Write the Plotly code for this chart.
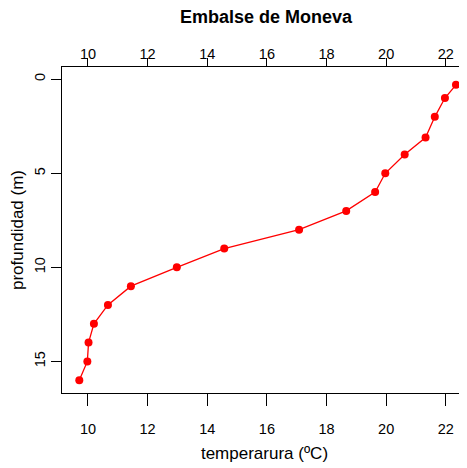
import plotly.graph_objects as go

temperatura = [22.34, 21.97, 21.63, 21.32, 20.62, 19.97, 19.63, 18.66, 17.08,
               14.57, 12.98, 11.44, 10.67, 10.20, 10.02, 9.98, 9.71]
profundidad = [0.3, 1, 2, 3.1, 4, 5, 6, 7, 8, 9, 10, 11, 12, 13, 14, 15, 16]
x_ticks = [10, 12, 14, 16, 18, 20, 22]
y_ticks = [0, 5, 10, 15]

FONT = "Liberation Sans, Arial, sans-serif"
xr = [9.13, 22.71]
yr = [16.68, -0.65]

# page body has an 8px offset, so the figure is sized to fill the window
W, H = 459, 460

fig = go.Figure()
fig.add_trace(go.Scatter(
    x=temperatura, y=profundidad, mode="lines+markers",
    line=dict(color="#ff0000", width=1.3),
    marker=dict(color="#ff0000", size=8, symbol="circle"),
    showlegend=False, cliponaxis=False,
))
fig.add_trace(go.Scatter(x=[], y=[], xaxis="x2", yaxis="y", showlegend=False))

axis_common = dict(
    showgrid=False, zeroline=False, showline=True, linecolor="black",
    linewidth=1.3, ticks="outside", tickcolor="black", tickwidth=1.3,
    tickfont=dict(family=FONT, size=14.5, color="black"),
)

fig.update_layout(
    width=W, height=H,
    margin=dict(l=54, r=0, t=59, b=75),
    paper_bgcolor="white", plot_bgcolor="white",
    font=dict(family=FONT, color="black"),
    xaxis=dict(range=xr, tickvals=x_ticks, ticklen=12, side="bottom",
               ticklabelstandoff=10,
               title=dict(text="temperarura (ºC)", font=dict(size=17), standoff=11),
               automargin=False, **axis_common),
    xaxis2=dict(range=xr, tickvals=x_ticks, ticklen=8, side="top",
                ticklabelstandoff=-7,
                overlaying="x", anchor="y", automargin=False, **axis_common),
    yaxis=dict(range=yr, tickvals=y_ticks, ticklen=10, tickangle=-90,
               title=dict(text="profundidad (m)", font=dict(size=17), standoff=4),
               automargin=False, **axis_common),
    title=dict(text="<b>Embalse de Moneva</b>", x=258 / W, xanchor="center",
               y=1 - 8.5 / H, yanchor="middle",
               font=dict(family=FONT, size=18, color="black")),
)

fig.write_html("out.html")
